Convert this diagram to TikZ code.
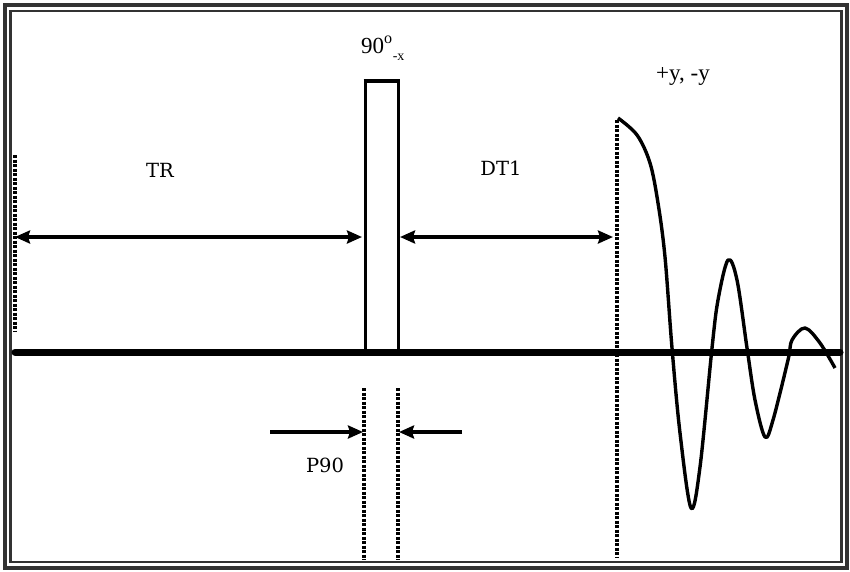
\documentclass[tikz,border=0pt]{standalone}
\usepackage{fontspec}
\setmainfont{Liberation Serif}
\newfontfamily\lblfont{DejaVu Serif}
\usetikzlibrary{arrows.meta}
\begin{document}
\begin{tikzpicture}[x=1pt,y=-1pt,
  frameout/.style={draw=black!80,line width=4.5pt},
  framein/.style={draw=black!80,line width=2.2pt},
  base/.style={line width=7pt,line cap=round},
  marker/.style={line width=3.2pt,dash pattern=on 3pt off 1.5pt},
  dim/.style={line width=3.4pt,{Stealth[length=15pt,width=13pt,inset=2pt]}-{Stealth[length=15pt,width=13pt,inset=2pt]}},
  single/.style={line width=3.4pt,-{Stealth[length=15pt,width=13pt,inset=2pt]}},
  lbl/.style={font=\lblfont\fontsize{19.5}{21}\selectfont,inner sep=0pt},
  biglbl/.style={font=\fontsize{23}{25}\selectfont,inner sep=0pt,anchor=base},
  pulse/.style={line width=3pt},
  fid/.style={line width=3.4pt,line join=round}]
\useasboundingbox (0,0) rectangle (850,571);
\fill[white] (0,0) rectangle (850,571);
% frame
\draw[frameout] (5.2,5.2) rectangle (846.8,567.8);
\draw[framein] (10.5,11) rectangle (841.5,562);
% coordinates
\coordinate (bl) at (15,352);
\coordinate (br) at (840,352);
\coordinate (m0t) at (15,155);
\coordinate (m0b) at (15,331);
\coordinate (trL) at (15,237);
\coordinate (trR) at (362,237);
\coordinate (dtL) at (400,237);
\coordinate (dtR) at (613,237);
\coordinate (m3t) at (617,120);
\coordinate (m3b) at (617,558);
\coordinate (m1t) at (364,388);
\coordinate (m1b) at (364,560);
\coordinate (m2t) at (398,388);
\coordinate (m2b) at (398,560);
\coordinate (pa) at (270,432);
\coordinate (pb) at (363,432);
\coordinate (pc) at (462,432);
\coordinate (pd) at (399,432);
% pulse
\draw[pulse] (365,352) -- (365,81) -- (398.5,81) -- (398.5,352);
\draw[line width=4.5pt] (363.5,81) -- (400,81);
% baseline
\draw[base] (bl) -- (br);
% markers
\draw[marker] (m0t) -- (m0b);
\draw[marker] (m3t) -- (m3b);
\draw[marker] (m1t) -- (m1b);
\draw[marker] (m2t) -- (m2b);
% dimension arrows
\draw[dim] (trL) -- (trR);
\draw[dim] (dtL) -- (dtR);
\draw[single] (pa) -- (pb);
\draw[single] (pc) -- (pd);
% FID
\draw[fid] plot[smooth,tension=0.55] coordinates {
 (618,118) (637,135) (650,163) (658,203) (665,257) (672,348) (680,433)
 (691,508) (700,467) (712,348) (718,300) (728,260) (737,280) (747,348)
 (755,400) (765,437) (773,420) (788,360) (792,340) (805,328) (820,343) (835,368)};
% labels
\node[lbl] (tr) at (160,170) {TR};
\node[lbl] (dt1) at (501,168) {DT1};
\node[lbl] (p90) at (325,465) {P90};
\node[biglbl,anchor=base west] (ang) at (361,53) {90\textsuperscript{o}\raisebox{-0.75ex}{\fontsize{14}{15}\selectfont -x}};
\node[biglbl] (ph) at (683,80) {+y, -y};
\end{tikzpicture}
\end{document}
